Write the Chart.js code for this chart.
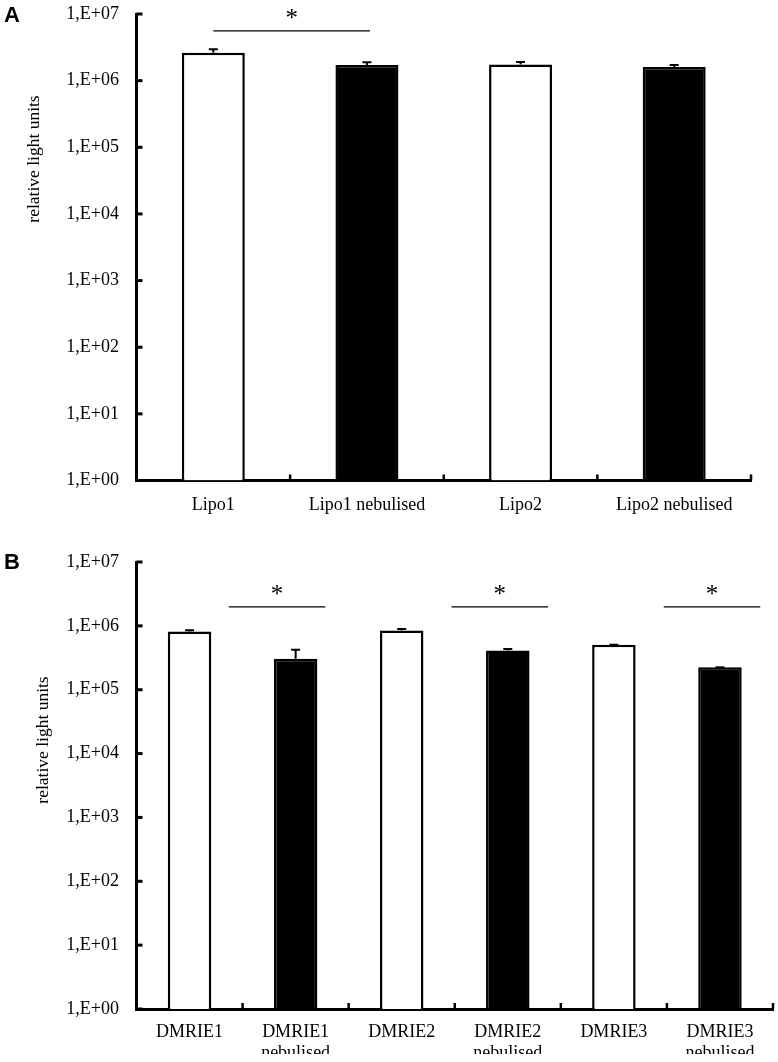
<!DOCTYPE html>
<html>
<head>
<meta charset="utf-8">
<script src="https://cdn.jsdelivr.net/npm/chart.js@4.4.1/dist/chart.umd.min.js"></script>
<style>
  html, body { margin: 0; padding: 0; background: #fff; }
  .panel { position: absolute; left: 0; width: 778px; }
  #panelA { top: 0; height: 530px; }
  #panelB { top: 530px; height: 532px; }
</style>
</head>
<body>
<div class="panel" id="panelA"><canvas id="chartA"></canvas></div>
<div class="panel" id="panelB"><canvas id="chartB"></canvas></div>
<script>
// y axis (log) ticks
const yTickValues = [1, 10, 100, 1e3, 1e4, 1e5, 1e6, 1e7];
const yTickLabels = ["1,E+00", "1,E+01", "1,E+02", "1,E+03", "1,E+04", "1,E+05", "1,E+06", "1,E+07"];

// Panel A
const lipoLabels = ["Lipo1", "Lipo1 nebulised", "Lipo2", "Lipo2 nebulised"];
const lipoMeans = [2.62e6, 1.72e6, 1.74e6, 1.6e6];
const lipoUpper = [2.95e6, 1.89e6, 1.91e6, 1.72e6];
const lipoFill = ["#ffffff", "#000000", "#ffffff", "#000000"];
// significance bars: [from category, to category, level]
const lipoSig = [[0, 1.02, 5.6e6]];

// Panel B
const dmrieLabels = [["DMRIE1"], ["DMRIE1", "nebulised"], ["DMRIE2"], ["DMRIE2", "nebulised"], ["DMRIE3"], ["DMRIE3", "nebulised"]];
const dmrieMeans = [8.15e5, 3.06e5, 8.45e5, 4.12e5, 5.06e5, 2.24e5];
const dmrieUpper = [8.57e5, 4.23e5, 8.89e5, 4.33e5, 5.06e5, 2.24e5];
const dmrieFill = ["#ffffff", "#000000", "#ffffff", "#000000", "#ffffff", "#000000"];
const dmrieSig = [[0.37, 1.28, 1.98e6], [2.47, 3.38, 1.98e6], [4.47, 5.38, 1.98e6]];

const serif = "'Liberation Serif', 'Times New Roman', serif";

// error bars, axis tick marks, significance lines, titles
const decorations = {
  id: "decorations",
  afterDraw(chart, args, opts) {
    const ctx = chart.ctx;
    const xs = chart.scales.x, ys = chart.scales.y;
    const area = chart.chartArea;
    const meta = chart.getDatasetMeta(0);
    ctx.save();
    ctx.strokeStyle = "#000";
    ctx.fillStyle = "#000";

    // error bars (upper only)
    ctx.lineWidth = 2;
    opts.upper.forEach((v, i) => {
      const bar = meta.data[i];
      const top = ys.getPixelForValue(v);
      ctx.beginPath();
      ctx.moveTo(bar.x, bar.y);
      ctx.lineTo(bar.x, top);
      ctx.moveTo(bar.x - 4.5, top);
      ctx.lineTo(bar.x + 4.5, top);
      ctx.stroke();
    });

    // y tick marks pointing inward
    ctx.lineWidth = 3;
    yTickValues.forEach(v => {
      const py = ys.getPixelForValue(v);
      ctx.beginPath();
      ctx.moveTo(area.left, py);
      ctx.lineTo(area.left + 6, py);
      ctx.stroke();
    });

    // x tick marks between categories
    ctx.lineWidth = 2.5;
    for (let i = 0; i < chart.data.labels.length; i++) {
      const px = xs.getPixelForValue(i + 0.5);
      ctx.beginPath();
      ctx.moveTo(px, area.bottom);
      ctx.lineTo(px, area.bottom - 6);
      ctx.stroke();
    }

    // significance lines with asterisk
    ctx.lineWidth = 1.3;
    ctx.font = "25px " + serif;
    ctx.textAlign = "center";
    ctx.textBaseline = "alphabetic";
    opts.sig.forEach(([a, b, lvl]) => {
      const x1 = xs.getPixelForValue(a), x2 = xs.getPixelForValue(b);
      const py = ys.getPixelForValue(lvl);
      ctx.beginPath();
      ctx.moveTo(x1, py);
      ctx.lineTo(x2, py);
      ctx.stroke();
      ctx.fillText("*", (x1 + x2) / 2, py - 5);
    });

    // y axis title
    ctx.save();
    ctx.translate(opts.titleX, opts.titleY);
    ctx.rotate(-Math.PI / 2);
    ctx.font = "17.5px " + serif;
    ctx.textBaseline = "middle";
    ctx.fillText("relative light units", 0, 0);
    ctx.restore();

    // panel letter
    ctx.font = "bold 22px 'Liberation Sans', Arial, sans-serif";
    ctx.textAlign = "left";
    ctx.fillText(opts.letter, 4, opts.letterY);
    ctx.restore();
  }
};

function makeChart(id, labels, means, upper, fill, sig, extra) {
  return new Chart(document.getElementById(id), {
    type: "bar",
    data: {
      labels: labels,
      datasets: [{
        data: means,
        backgroundColor: fill,
        borderColor: "#000",
        borderWidth: 2.5,
        barPercentage: 0.41,
        categoryPercentage: 1,
      }],
    },
    options: {
      responsive: true,
      maintainAspectRatio: false,
      animation: false,
      layout: { padding: extra.padding },
      plugins: {
        legend: { display: false },
        tooltip: { enabled: false },
        decorations: {
          upper: upper,
          sig: sig,
          letter: extra.letter,
          letterY: extra.letterY,
          titleX: extra.titleX,
          titleY: extra.titleY,
        },
      },
      scales: {
        x: {
          offset: true,
          grid: { display: false, drawTicks: false },
          border: { display: true, color: "#000", width: 3 },
          ticks: {
            color: "#000",
            font: { family: serif, size: 18 },
            padding: extra.labelPad,
            maxRotation: 0,
            autoSkip: false,
          },
          afterFit: s => { s.height = 45; },
        },
        y: {
          type: "logarithmic",
          min: 1,
          max: 1e7,
          grid: { display: false, drawTicks: false },
          border: { display: true, color: "#000", width: 3 },
          ticks: {
            color: "#000",
            font: { family: serif, size: 18 },
            padding: 17.5,
            callback: v => yTickLabels[yTickValues.indexOf(v)],
          },
          afterBuildTicks: s => { s.ticks = yTickValues.map(v => ({ value: v })); },
          afterFit: s => {
            s.width = 136.5;
            s.paddingTop = 0;
            s.paddingBottom = 0;
          },
        },
      },
    },
    plugins: [decorations],
  });
}

makeChart("chartA", lipoLabels, lipoMeans, lipoUpper, lipoFill, lipoSig, {
  padding: { left: 0, right: 27, top: 14, bottom: 4.5 },
  labelPad: 13.5,
  letter: "A", letterY: 22,
  titleX: 34, titleY: 159,
});

makeChart("chartB", dmrieLabels, dmrieMeans, dmrieUpper, dmrieFill, dmrieSig, {
  padding: { left: 0, right: 5, top: 32, bottom: 8 },
  labelPad: 12,
  letter: "B", letterY: 39,
  titleX: 43, titleY: 210,
});
</script>
</body>
</html>
